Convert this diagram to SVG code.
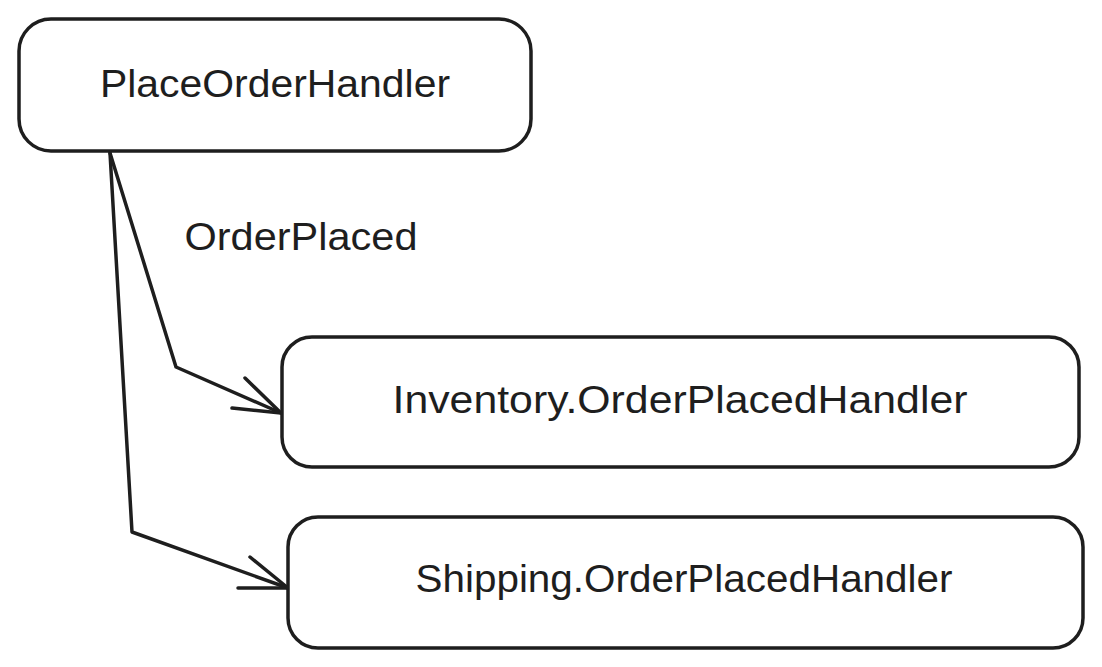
<svg xmlns="http://www.w3.org/2000/svg" width="1102" height="667" viewBox="0 0 1102 667">
<style>
.box{fill:#ffffff;stroke:#1e1e1e;stroke-width:3.5}
.lbl{font-family:"Liberation Sans",Arial,sans-serif;font-size:38px;fill:#1e1e1e;text-anchor:middle}
.edge{fill:none;stroke:#1e1e1e;stroke-width:3.5;stroke-linecap:round;stroke-linejoin:round}
</style>
<rect width="1102" height="667" fill="#ffffff"/>
<g id="connectors">
<path class="edge" d="M110,153 L176,367 L281,413"/>
<path class="edge" d="M245,378 L281,413 L232,408"/>
<path class="edge" d="M110,153 L132,532 L288,588"/>
<path class="edge" d="M250,557 L288,588 L238,588"/>
<text class="lbl" x="301" y="250" textLength="233" lengthAdjust="spacingAndGlyphs">OrderPlaced</text>
</g>
<g id="PlaceOrderHandler">
<rect class="box" x="19" y="19" width="512" height="132" rx="32"/>
<text class="lbl" x="275" y="97" textLength="350" lengthAdjust="spacingAndGlyphs">PlaceOrderHandler</text>
</g>
<g id="InventoryOrderPlacedHandler">
<rect class="box" x="282" y="337" width="797" height="130" rx="30"/>
<text class="lbl" x="680" y="413" textLength="575" lengthAdjust="spacingAndGlyphs">Inventory.OrderPlacedHandler</text>
</g>
<g id="ShippingOrderPlacedHandler">
<rect class="box" x="288" y="517" width="795" height="131" rx="30"/>
<text class="lbl" x="684" y="592" textLength="537" lengthAdjust="spacingAndGlyphs">Shipping.OrderPlacedHandler</text>
</g>
</svg>
